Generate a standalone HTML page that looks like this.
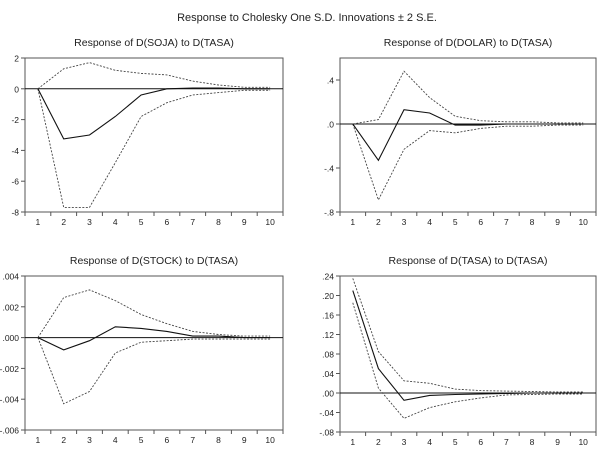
<!DOCTYPE html>
<html><head><meta charset="utf-8"><style>
body{margin:0;background:#fff;}
svg{display:block;font-family:"Liberation Sans",Arial,sans-serif;}
</style></head><body>
<svg id="c" width="614" height="462">
<text x="307" y="21" text-anchor="middle" font-size="11" fill="#222">Response to Cholesky One S.D. Innovations ± 2 S.E.</text>
</svg>
<script>
const periods=[1,2,3,4,5,6,7,8,9,10];
const sojaResp=[0,-3.25,-3.0,-1.8,-0.4,0,0.05,0.05,0,0];
const sojaUp=[0,1.3,1.7,1.2,1.0,0.9,0.5,0.25,0.1,0.1];
const sojaLo=[0,-7.7,-7.7,-4.8,-1.8,-0.9,-0.4,-0.25,-0.1,-0.1];
const sojaTicks=[2,0,-2,-4,-6,-8];
const sojaTickLabels=["2","0","-2","-4","-6","-8"];
const dolarResp=[0,-0.33,0.13,0.1,-0.01,-0.01,0,0,0,0];
const dolarUp=[0,0.04,0.48,0.24,0.07,0.03,0.02,0.02,0.01,0.01];
const dolarLo=[0,-0.69,-0.23,-0.06,-0.08,-0.04,-0.02,-0.02,-0.01,-0.01];
const dolarTicks=[0.4,0,-0.4,-0.8];
const dolarTickLabels=[".4",".0","-.4","-.8"];
const stockResp=[0,-0.0008,-0.0002,0.0007,0.0006,0.0004,0.0001,0.0001,0,0];
const stockUp=[0,0.0026,0.0031,0.0024,0.0015,0.0009,0.0004,0.0002,0.0001,0.0001];
const stockLo=[0,-0.0043,-0.0035,-0.001,-0.0003,-0.0002,-0.0001,-0.0001,-0.0001,-0.0001];
const stockTicks=[0.004,0.002,0,-0.002,-0.004,-0.006];
const stockTickLabels=[".004",".002",".000","-.002","-.004","-.006"];
const tasaResp=[0.21,0.05,-0.015,-0.005,-0.003,-0.002,-0.001,0,0,0];
const tasaUp=[0.235,0.085,0.025,0.02,0.008,0.005,0.004,0.003,0.002,0.002];
const tasaLo=[0.185,0.01,-0.052,-0.03,-0.018,-0.01,-0.004,-0.003,-0.002,-0.002];
const tasaTicks=[0.24,0.2,0.16,0.12,0.08,0.04,0,-0.04,-0.08];
const tasaTickLabels=[".24",".20",".16",".12",".08",".04",".00","-.04","-.08"];

const svg=document.getElementById('c');
const NS='http://www.w3.org/2000/svg';
function mk(tag,attrs,parent){const e=document.createElementNS(NS,tag);for(const k in attrs)e.setAttribute(k,attrs[k]);(parent||svg).appendChild(e);return e;}

function panel(name,title,L,R,T,B,ymin,ymax,ticks,labels,resp,up,lo){
  const g=mk('g',{});
  
  
  const step=(R-L)/periods.length;
  const x=i=>L+step*(i+0.5);
  const y=v=>B-(v-ymin)/(ymax-ymin)*(B-T);
  const t=mk('text',{x:(L+R)/2,y:T-12,'text-anchor':'middle','font-size':'10.5',fill:'#222'},g);
  t.textContent=title;
  
  
  const box=mk('rect',{x:L,y:T,width:R-L,height:B-T,fill:'none',stroke:'#555','stroke-width':'1'},g);
  
  
  ticks.forEach((v,i)=>{
    mk('line',{x1:L-4,x2:L,y1:y(v),y2:y(v),stroke:'#555'},g);
    const tl=mk('text',{x:L-6,y:y(v)+3.5,'text-anchor':'end','font-size':'8.5',fill:'#222'},g);
    tl.textContent=labels[i];
    
    
  });
  for(let i=0;i<=periods.length;i++) mk('line',{x1:L+step*i,x2:L+step*i,y1:B,y2:B+4,stroke:'#555'},g);
  periods.forEach((p,i)=>{
    const xl=mk('text',{x:x(i),y:B+13,'text-anchor':'middle','font-size':'8.5',fill:'#222'},g);
    xl.textContent=p;
    
    
  });
  const z=mk('line',{x1:L,x2:R,y1:y(0),y2:y(0),stroke:'#111','stroke-width':'1'},g);
  
  
  const pts=a=>a.map((v,i)=>x(i).toFixed(1)+','+y(v).toFixed(1)).join(' ');
  const u=mk('polyline',{points:pts(up),fill:'none',stroke:'#444','stroke-width':'0.9','stroke-dasharray':'2,1.5'},g);
  
  
  const l=mk('polyline',{points:pts(lo),fill:'none',stroke:'#444','stroke-width':'0.9','stroke-dasharray':'2,1.5'},g);
  
  
  const r=mk('polyline',{points:pts(resp),fill:'none',stroke:'#111','stroke-width':'1.1'},g);
  
  
}
panel('soja','Response of D(SOJA) to D(TASA)',25,283,58,212,-8,2,sojaTicks,sojaTickLabels,sojaResp,sojaUp,sojaLo);
panel('dolar','Response of D(DOLAR) to D(TASA)',340,596,58,212,-0.8,0.6,dolarTicks,dolarTickLabels,dolarResp,dolarUp,dolarLo);
panel('stock','Response of D(STOCK) to D(TASA)',25,283,276,430,-0.006,0.004,stockTicks,stockTickLabels,stockResp,stockUp,stockLo);
panel('tasa','Response of D(TASA) to D(TASA)',340,596,276,432,-0.08,0.24,tasaTicks,tasaTickLabels,tasaResp,tasaUp,tasaLo);
</script>
</body></html>
